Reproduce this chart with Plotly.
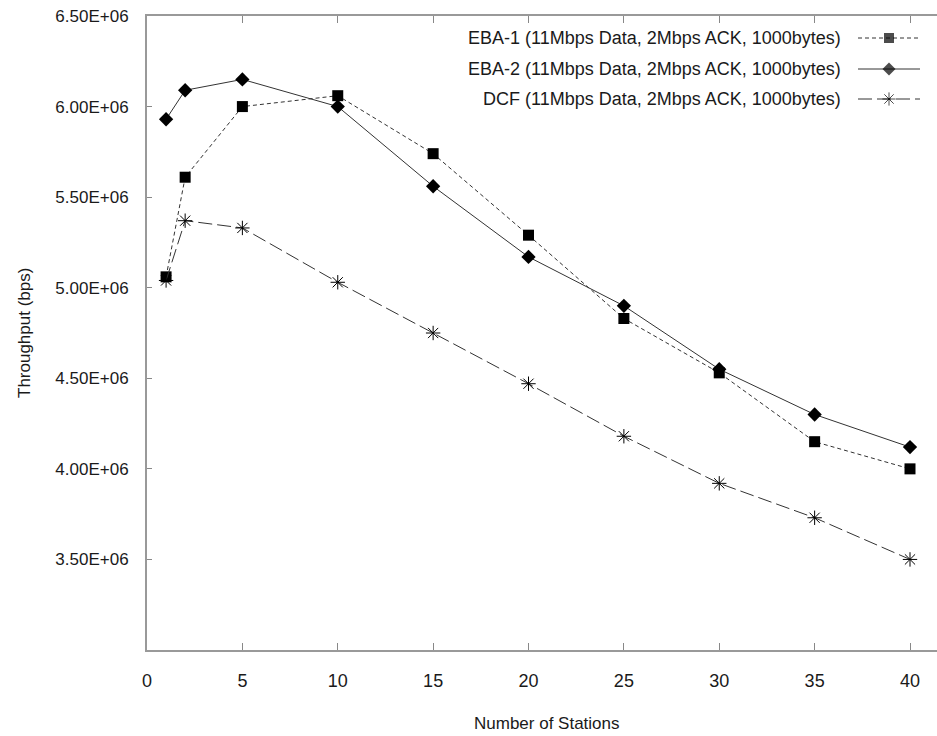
import plotly.graph_objects as go

stations = [1, 2, 5, 10, 15, 20, 25, 30, 35, 40]
eba1 = [5.06e6, 5.61e6, 6.00e6, 6.06e6, 5.74e6, 5.29e6, 4.83e6, 4.53e6, 4.15e6, 4.00e6]
eba2 = [5.93e6, 6.09e6, 6.15e6, 6.00e6, 5.56e6, 5.17e6, 4.90e6, 4.55e6, 4.30e6, 4.12e6]
dcf = [5.04e6, 5.37e6, 5.33e6, 5.03e6, 4.75e6, 4.47e6, 4.18e6, 3.92e6, 3.73e6, 3.50e6]

series_names = [
    "EBA-1 (11Mbps Data, 2Mbps ACK, 1000bytes)",
    "EBA-2 (11Mbps Data, 2Mbps ACK, 1000bytes)",
    "DCF (11Mbps Data, 2Mbps ACK, 1000bytes)",
]
y_tickvals = [3.5e6, 4.0e6, 4.5e6, 5.0e6, 5.5e6, 6.0e6, 6.5e6]
y_ticktext = ["3.50E+06", "4.00E+06", "4.50E+06", "5.00E+06", "5.50E+06", "6.00E+06", "6.50E+06"]
x_tickvals = [0, 5, 10, 15, 20, 25, 30, 35, 40]

W, H = 937, 736
L, R, T, B = 147, 0, 16, 86
FONT = "Liberation Sans, Arial, sans-serif"
LINE = "#333333"
TXT = "#1a1a1a"

styles = [
    dict(dash="4px,3px", symbol="square", size=11, mline=0),
    dict(dash="solid", symbol="diamond", size=11, mline=0),
    dict(dash="14px,5px", symbol="asterisk-open", size=12, mline=1),
]
data = [eba1, eba2, dcf]

fig = go.Figure()
for vals, st, name in zip(data, styles, series_names):
    fig.add_trace(go.Scatter(
        x=stations, y=vals, mode="lines+markers", name=name, showlegend=False,
        line=dict(color=LINE, width=1, dash=st["dash"]),
        marker=dict(symbol=st["symbol"], size=st["size"], color="black",
                    line=dict(color="black", width=st["mline"])),
    ))

# legend samples drawn on an overlay pixel-scaled axis
leg_rows = [38, 69, 99]
for st, ly in zip(styles, leg_rows):
    fig.add_trace(go.Scatter(
        x=[858, 889, 920], y=[ly, ly, ly], mode="lines+markers", showlegend=False,
        xaxis="x2", yaxis="y2", hoverinfo="skip",
        line=dict(color=LINE, width=1, dash=st["dash"]),
        marker=dict(symbol=st["symbol"], size=[0, st["size"] - 1, 0], color="black",
                    line=dict(color="black", width=st["mline"])),
    ))

annotations = []
for name, ly in zip(series_names, leg_rows):
    annotations.append(dict(
        text=name, xref="x2", yref="y2", x=843, y=ly, xanchor="right", yanchor="middle",
        showarrow=False, font=dict(family=FONT, size=18, color=TXT)))
annotations.append(dict(
    text="Throughput (bps)", xref="paper", yref="paper", x=-(L - 24) / (W - L - R),
    y=(H - B - 333) / (H - B - T), textangle=-90, xanchor="center", yanchor="middle",
    showarrow=False, font=dict(family=FONT, size=17, color=TXT)))
annotations.append(dict(
    text="Number of Stations", xref="paper", yref="paper", x=(547 - L) / (W - L - R),
    y=-(723 - (H - B)) / (H - B - T), xanchor="center", yanchor="middle",
    showarrow=False, font=dict(family=FONT, size=17, color=TXT)))

fig.update_layout(
    width=W, height=H,
    margin=dict(l=L, r=R, t=T, b=B, pad=0),
    paper_bgcolor="white", plot_bgcolor="white",
    annotations=annotations,
    xaxis=dict(range=[0, (W - L - R) / ((910 - 147) / 40)], tickvals=x_tickvals,
               ticks="inside", ticklen=7, tickcolor="#888", tickwidth=1,
               showline=True, linecolor="#999", linewidth=2, mirror="ticks",
               showgrid=False, zeroline=False, ticklabelstandoff=13,
               tickfont=dict(family=FONT, size=18, color=TXT)),
    yaxis=dict(range=[3.0e6, 6.5e6], tickvals=y_tickvals, ticktext=y_ticktext,
               ticks="inside", ticklen=5, tickcolor="#888", tickwidth=1,
               showline=True, linecolor="#999", linewidth=2,
               showgrid=False, zeroline=False, ticklabelstandoff=13,
               tickfont=dict(family=FONT, size=17, color=TXT)),
    xaxis2=dict(range=[L, W - R], overlaying="x", visible=False, anchor="y2"),
    yaxis2=dict(range=[H - B, T], overlaying="y", visible=False, anchor="x2"),
)

fig.write_html(
    "out.html",
    config={"displayModeBar": False},
    post_script="document.body.style.margin='0';document.body.style.overflow='hidden';",
)
